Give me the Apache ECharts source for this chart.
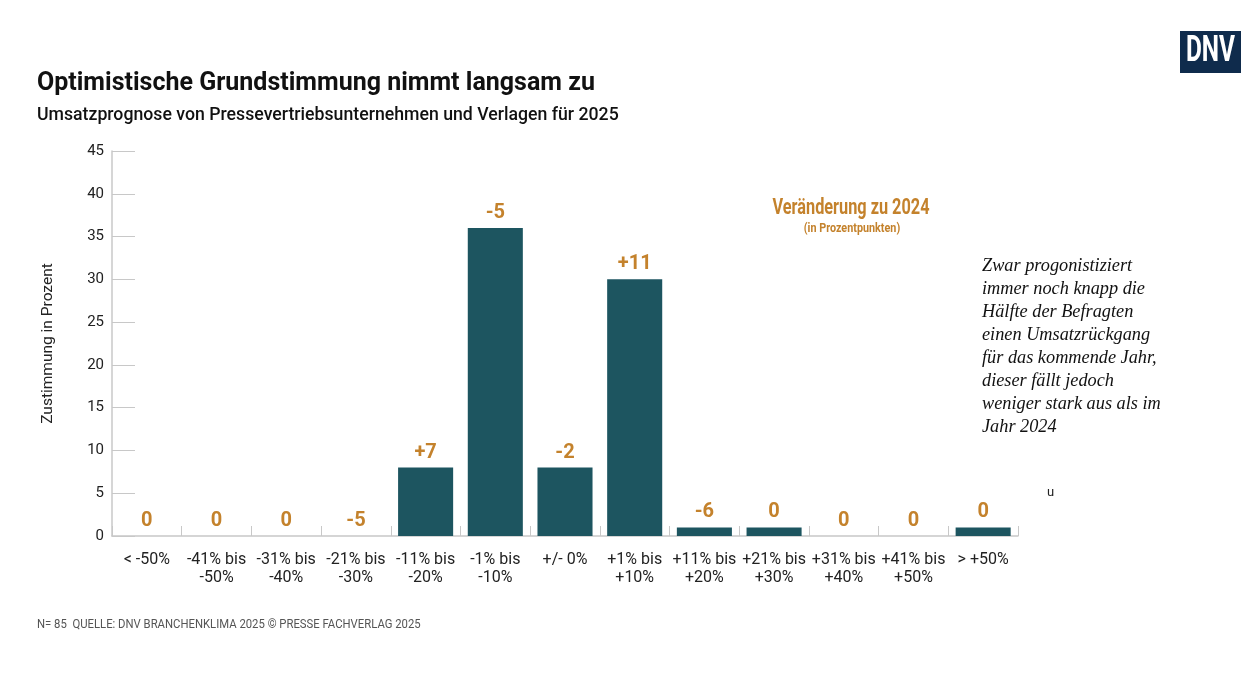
<!DOCTYPE html>
<html>
<head>
<meta charset="utf-8">
<script src="https://cdn.jsdelivr.net/npm/echarts@6/dist/echarts.min.js"></script>
<style>
html,body{margin:0;padding:0;background:#fff;}
#c{width:1260px;height:680px;}
</style>
</head>
<body>
<div id="c"></div>
<script>
const categories = ['< -50%', '-41% bis\n-50%', '-31% bis\n-40%', '-21% bis\n-30%', '-11% bis\n-20%', '-1% bis\n-10%', '+/- 0%', '+1% bis\n+10%', '+11% bis\n+20%', '+21% bis\n+30%', '+31% bis\n+40%', '+41% bis\n+50%', '> +50%'];
const values = [0, 0, 0, 0, 8, 36, 8, 30, 1, 1, 0, 0, 1];
const changeLabels = ['0', '0', '0', '-5', '+7', '-5', '-2', '+11', '-6', '0', '0', '0', '0'];
const yTicks = [0, 5, 10, 15, 20, 25, 30, 35, 40, 45];

const BAR = '#1d5560';
const ORANGE = '#c4822c';
const SANS = 'Roboto, "Noto Sans", sans-serif';

const chart = echarts.init(document.getElementById('c'));
chart.setOption({
  animation: false,
  backgroundColor: '#fff',
  title: [{
    text: 'Optimistische Grundstimmung nimmt langsam zu',
    left: 37, top: 71, padding: 0,
    textStyle: {fontFamily: SANS, fontSize: 25, fontWeight: 'bold', color: '#111'}
  }, {
    text: 'Umsatzprognose von Pressevertriebsunternehmen und Verlagen für 2025',
    left: 37, top: 107, padding: 0,
    textStyle: {fontFamily: SANS, fontSize: 17.7, fontWeight: 500, color: '#111'}
  }],
  grid: {left: 112, right: 242, top: 151, bottom: 144, containLabel: false},
  xAxis: {
    type: 'category',
    data: categories,
    axisLine: {show: true, lineStyle: {color: '#c8c8c8', width: 1.5}},
    axisTick: {show: true, inside: true, length: 10, lineStyle: {color: '#c8c8c8'}},
    axisLabel: {fontFamily: SANS, fontSize: 16, color: '#222', lineHeight: 18, margin: 15, interval: 0}
  },
  yAxis: {
    type: 'value',
    min: 0, max: 45, interval: 5,
    name: 'Zustimmung in Prozent',
    nameLocation: 'middle',
    nameGap: 56,
    nameTextStyle: {fontFamily: SANS, fontSize: 15.5, color: '#222'},
    axisLine: {show: true, lineStyle: {color: '#c8c8c8', width: 1.5}},
    axisTick: {show: true, inside: true, length: 23, lineStyle: {color: '#c8c8c8'}},
    splitLine: {show: false},
    axisLabel: {fontFamily: SANS, fontSize: 15, color: '#222', margin: 8,
      formatter: v => yTicks.includes(v) ? String(v) : ''}
  },
  series: [{
    type: 'bar',
    data: values,
    barWidth: '79%',
    itemStyle: {color: BAR},
    label: {
      show: true, position: 'top', distance: 5,
      fontFamily: SANS, fontSize: 20, fontWeight: 'bold', color: ORANGE,
      formatter: p => changeLabels[p.dataIndex]
    }
  }],
  graphic: [
    {type: 'rect', left: 1180, top: 31, shape: {width: 61, height: 42}, style: {fill: '#0f2b4c'}},
    {type: 'text', x: 1210.5, y: 52, scaleX: 0.68, style: {text: 'DNV', fontFamily: SANS, fontSize: 36, fontWeight: 'bold', fill: '#fff', align: 'center', verticalAlign: 'middle'}},
    {type: 'text', x: 851, y: 208, scaleX: 0.74, style: {text: 'Veränderung zu 2024', fontFamily: SANS, fontSize: 22, fontWeight: 'bold', fill: ORANGE, align: 'center', verticalAlign: 'middle'}},
    {type: 'text', x: 852, y: 229, scaleX: 0.8, style: {text: '(in Prozentpunkten)', fontFamily: SANS, fontSize: 13.5, fontWeight: 'bold', fill: ORANGE, align: 'center', verticalAlign: 'middle'}},
    {type: 'text', x: 982, y: 255, style: {
      text: 'Zwar progonistiziert\nimmer noch knapp die\nHälfte der Befragten\neinen Umsatzrückgang\nfür das kommende Jahr,\ndieser fällt jedoch\nweniger stark aus als im\nJahr 2024',
      fontFamily: '"Liberation Serif", "DejaVu Serif", serif', fontStyle: 'italic', fontSize: 18.3, lineHeight: 23, fill: '#111'}},
    {type: 'text', x: 1047, y: 486, style: {text: 'u', fontFamily: SANS, fontSize: 13, fill: '#222'}},
    {type: 'text', x: 37, y: 625, scaleX: 0.87, style: {text: 'N= 85  QUELLE: DNV BRANCHENKLIMA 2025 © PRESSE FACHVERLAG 2025', fontFamily: SANS, fontSize: 13, fill: '#555', verticalAlign: 'middle'}}
  ]
});
</script>
</body>
</html>
